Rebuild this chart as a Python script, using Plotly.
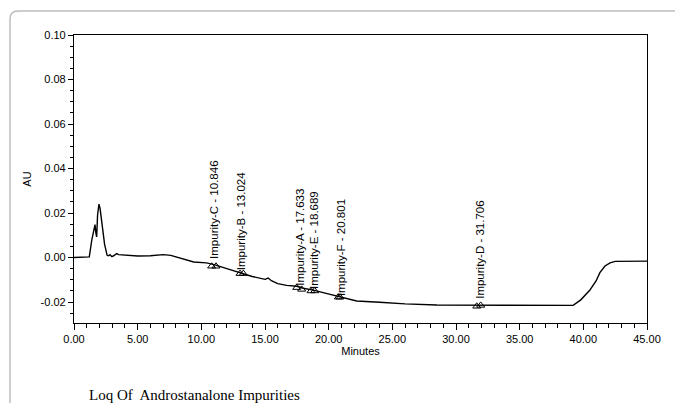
import plotly.graph_objects as go

# ---- data ----
time_min = [0.0, 1.0, 1.2, 1.4, 1.6, 1.65, 1.72, 1.78, 1.85, 1.96, 2.05, 2.2, 2.4, 2.6, 2.7,
            2.83, 2.95, 3.05, 3.2, 3.35, 3.5, 4.0, 5.0, 6.0, 7.0, 7.6, 8.6, 9.4, 10.4, 11.0,
            12.0, 13.0, 14.0, 15.0, 15.25, 15.5, 16.0, 16.7, 17.5, 18.0, 18.8, 19.8, 20.8,
            21.5, 22.2, 24.0, 26.0, 28.5, 31.0, 35.0, 39.2, 39.8, 40.5, 41.0, 41.3, 41.7,
            42.1, 42.5, 45.0]
au = [0.0, 0.0, 0.0003, 0.008, 0.0135, 0.0148, 0.011, 0.0093, 0.019, 0.024, 0.022, 0.014,
      0.006, 0.001, 0.0008, 0.0013, 0.0005, 0.0006, 0.0012, 0.0018, 0.0013, 0.0011, 0.0007,
      0.0008, 0.0013, 0.001, -0.0007, -0.002, -0.0024, -0.0032, -0.005, -0.0068, -0.0085,
      -0.0098, -0.0092, -0.0104, -0.0117, -0.0125, -0.0129, -0.0138, -0.0146, -0.0161,
      -0.0175, -0.0186, -0.0195, -0.0201, -0.0208, -0.0213, -0.0214, -0.0215, -0.0215,
      -0.019, -0.0147, -0.0105, -0.0068, -0.0038, -0.0024, -0.0017, -0.0016]

peak_names = ["Impurity-C", "Impurity-B", "Impurity-A", "Impurity-E", "Impurity-F", "Impurity-D"]
peak_rt = [10.846, 13.024, 17.633, 18.689, 20.801, 31.706]
peak_start = [10.81, 13.04, 17.49, 18.61, 20.76, 31.63]
peak_end = [11.15, 13.30, 17.88, 18.90, 20.89, 31.94]
start_au = [-0.0039, -0.0072, -0.0135, -0.0150, -0.0178, -0.0219]
end_au = [-0.0039, -0.0072, -0.0143, -0.0150, -0.0178, -0.0215]
label_base_au = [-0.0010, -0.0062, -0.0131, -0.0146, -0.0176, -0.0191]

x_ticks = [0, 5, 10, 15, 20, 25, 30, 35, 40, 45]
x_tick_labels = ["0.00", "5.00", "10.00", "15.00", "20.00", "25.00", "30.00", "35.00", "40.00", "45.00"]
y_ticks = [-0.02, 0.0, 0.02, 0.04, 0.06, 0.08, 0.10]
y_tick_labels = ["-0.02", "0.00", "0.02", "0.04", "0.06", "0.08", "0.10"]

caption = "Loq Of  Androstanalone Impurities"

# ---- layout geometry (pixels) ----
W, H = 675, 403
L, R, T, B = 74, 28, 35, 80
pw, ph = W - L - R, H - T - B


def px2paper(px, py):
    return (px - L) / pw, (H - B - py) / ph


fig = go.Figure()
fig.add_trace(go.Scatter(x=time_min, y=au, mode="lines",
                         line=dict(color="black", width=1.4), hoverinfo="skip",
                         showlegend=False))
fig.add_trace(go.Scatter(x=peak_start + peak_end, y=start_au + end_au, mode="markers",
                         marker=dict(symbol="triangle-up-open", size=7, color="black",
                                     line=dict(width=1, color="black")),
                         showlegend=False))

for name, rt, yb in zip(peak_names, peak_rt, label_base_au):
    fig.add_annotation(x=rt, y=yb, xref="x", yref="y", text=f"{name} - {rt:.3f}",
                       textangle=-90, showarrow=False, xanchor="center", yanchor="bottom",
                       xshift=2, borderpad=0,
                       font=dict(family="Liberation Sans, Arial", size=11.5, color="black"))

cx, cy = px2paper(87, 395)
fig.add_annotation(x=cx, y=cy, xref="paper", yref="paper", text=caption, showarrow=False,
                   xanchor="left", yanchor="middle",
                   font=dict(family="Liberation Serif, Times New Roman", size=15, color="black"))

# outer rounded container
x0, y0 = px2paper(10, 11)
xr, _ = px2paper(690, 11)
_, yb_ = px2paper(10, 420)
rx = 8 / pw
ry = 8 / ph
path = (f"M {xr},{y0} L {x0 + rx},{y0} Q {x0},{y0} {x0},{y0 - ry} L {x0},{yb_}")
fig.add_shape(type="path", path=path, xref="paper", yref="paper",
              line=dict(color="#bdbdbd", width=1.5))

fig.update_layout(
    width=W, height=H, margin=dict(l=L, r=R, t=T, b=B, pad=0),
    paper_bgcolor="white", plot_bgcolor="white",
    font=dict(family="Liberation Sans, Arial", size=11, color="black"),
    showlegend=False,
)
fig.update_xaxes(range=[0, 45], tickvals=x_ticks, ticktext=x_tick_labels,
                 showgrid=False, zeroline=False, showline=True, mirror=True,
                 linecolor="black", linewidth=1.2, ticks="outside", ticklen=6,
                 tickcolor="black", tickwidth=1,
                 minor=dict(dtick=1, ticks="outside", ticklen=4, tickcolor="black", showgrid=False),
                 title=dict(text="Minutes", standoff=2, font=dict(size=11)))
fig.update_yaxes(range=[-0.0294, 0.10], tickvals=y_ticks, ticktext=y_tick_labels,
                 showgrid=False, zeroline=False, showline=True, mirror=True,
                 linecolor="black", linewidth=1.2, ticks="outside", ticklen=5,
                 tickcolor="black", tickwidth=1,
                 minor=dict(tick0=0, dtick=0.005, ticks="outside", ticklen=3,
                            tickcolor="black", showgrid=False),
                 title=dict(text="AU", standoff=6, font=dict(size=11)))

fig.write_html("out.html", config={"displayModeBar": False},
               post_script="document.body.style.margin='0';document.body.style.overflow='hidden';")
